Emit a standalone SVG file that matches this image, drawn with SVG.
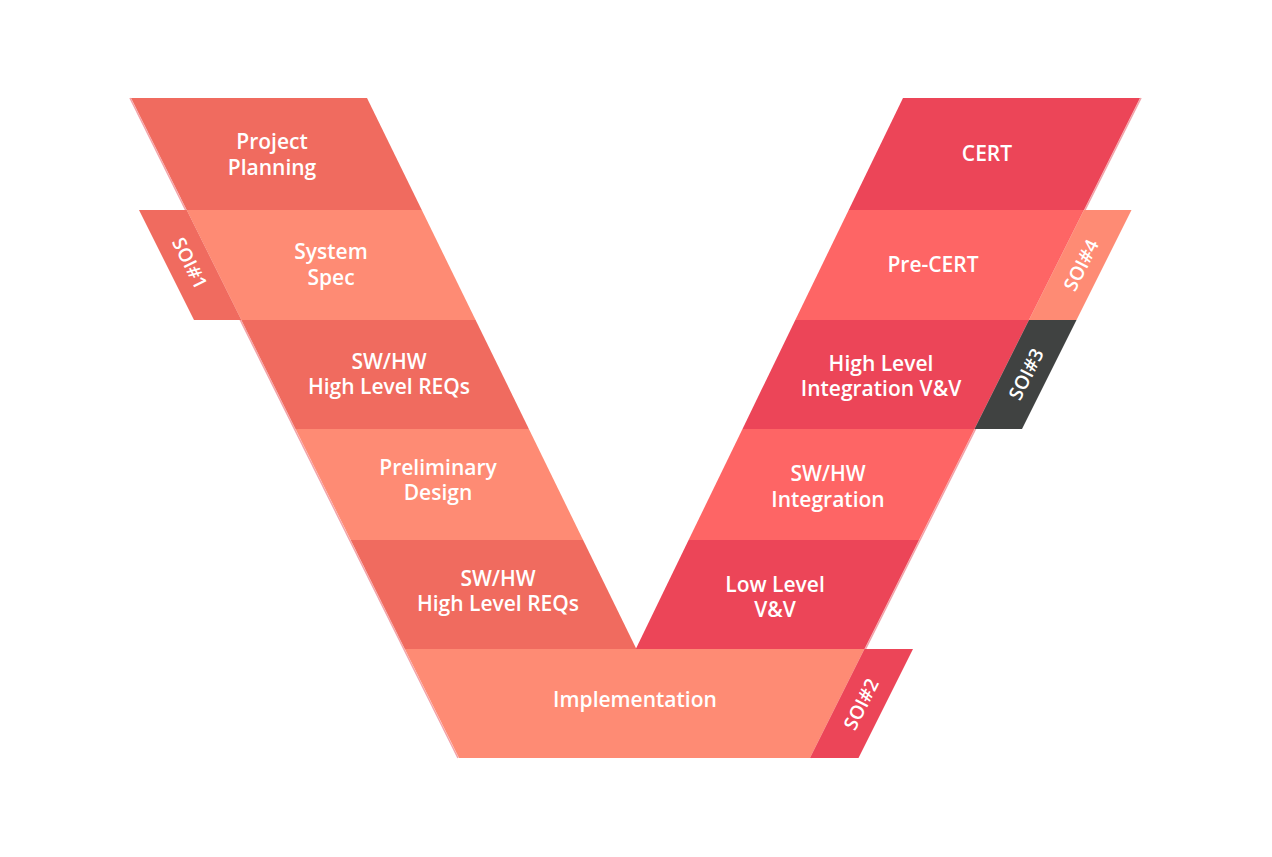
<svg xmlns="http://www.w3.org/2000/svg" width="1272" height="857" viewBox="0 0 1272 857">
<style>
.lbl{font-family:"Open Sans","Noto Sans","Liberation Sans",sans-serif;font-weight:600;font-size:21px;fill:#ffffff;text-anchor:middle}
.soi{font-family:"Open Sans","Noto Sans","Liberation Sans",sans-serif;font-weight:600;font-size:19px;fill:#ffffff;text-anchor:middle}
.c1{fill:#F06B5F}
.c2{fill:#FE8B74}
.c3{fill:#EC4558}
.c4{fill:#FE6565}
.c5{fill:#404241}
.edge{fill:none;stroke:#F3A2A8;stroke-width:1.5}
</style>
<rect width="1272" height="857" fill="#ffffff"/>
<g id="edges">
<line class="edge" x1="130" y1="98" x2="458" y2="758"/>
<line class="edge" x1="1141" y1="98" x2="811" y2="758"/>
</g>
<g id="project-planning">
<polygon class="c1" points="131,98 367,98 421.8,210 186.7,210"/>
<text class="lbl" x="272" y="149">Project</text>
<text class="lbl" x="272" y="174.5">Planning</text>
</g>
<g id="system-spec">
<polygon class="c2" points="186.7,210 421.8,210 475.6,320 241.3,320"/>
<text class="lbl" x="331" y="259">System</text>
<text class="lbl" x="331" y="284.5">Spec</text>
</g>
<g id="soi1">
<polygon class="c1" points="139,210 186.7,210 241.3,320 194,320"/>
<text class="soi" transform="translate(190,263) rotate(63.4)" y="7">SOI#1</text>
</g>
<g id="swhw-hl-reqs-1">
<polygon class="c1" points="241.3,320 475.6,320 528.9,429 295.5,429"/>
<text class="lbl" x="389" y="368.5">SW/HW</text>
<text class="lbl" x="389" y="394">High Level REQs</text>
</g>
<g id="preliminary-design">
<polygon class="c2" points="295.5,429 528.9,429 583.1,540 350.7,540"/>
<text class="lbl" x="438" y="474.5">Preliminary</text>
<text class="lbl" x="438" y="500">Design</text>
</g>
<g id="swhw-hl-reqs-2">
<polygon class="c1" points="350.7,540 583.1,540 636.4,649 404.8,649"/>
<text class="lbl" x="498" y="585.5">SW/HW</text>
<text class="lbl" x="498" y="611">High Level REQs</text>
</g>
<g id="implementation">
<polygon class="c2" points="404.8,649 864.5,649 810,758 459,758"/>
<text class="lbl" x="635" y="707">Implementation</text>
</g>
<g id="soi2">
<polygon class="c3" points="864.5,649 913,649 858.5,758 810,758"/>
<text class="soi" transform="translate(861,704) rotate(-63.4)" y="7">SOI#2</text>
</g>
<g id="low-level-vv">
<polygon class="c3" points="688.6,540 919,540 864.5,649 635.8,649"/>
<text class="lbl" x="775" y="591.5">Low Level</text>
<text class="lbl" x="775" y="617">V&amp;V</text>
</g>
<g id="swhw-integration">
<polygon class="c4" points="742.5,429 974.5,429 919,540 688.6,540"/>
<text class="lbl" x="828" y="481">SW/HW</text>
<text class="lbl" x="828" y="506.5">Integration</text>
</g>
<g id="high-level-integration-vv">
<polygon class="c3" points="795.3,320 1029,320 974.5,429 742.5,429"/>
<text class="lbl" x="881" y="370.5">High Level</text>
<text class="lbl" x="881" y="396">Integration V&amp;V</text>
</g>
<g id="soi3">
<polygon class="c5" points="1029,320 1076.5,320 1022,429 974.5,429"/>
<text class="soi" transform="translate(1026,374) rotate(-63.4)" y="7">SOI#3</text>
</g>
<g id="pre-cert">
<polygon class="c4" points="848.7,210 1084,210 1029,320 795.3,320"/>
<text class="lbl" x="933" y="272">Pre-CERT</text>
</g>
<g id="soi4">
<polygon class="c2" points="1084,210 1131.5,210 1076.5,320 1029,320"/>
<text class="soi" transform="translate(1081,265) rotate(-63.4)" y="7">SOI#4</text>
</g>
<g id="cert">
<polygon class="c3" points="903,98 1140,98 1084,210 848.7,210"/>
<text class="lbl" x="987" y="161">CERT</text>
</g>
</svg>
